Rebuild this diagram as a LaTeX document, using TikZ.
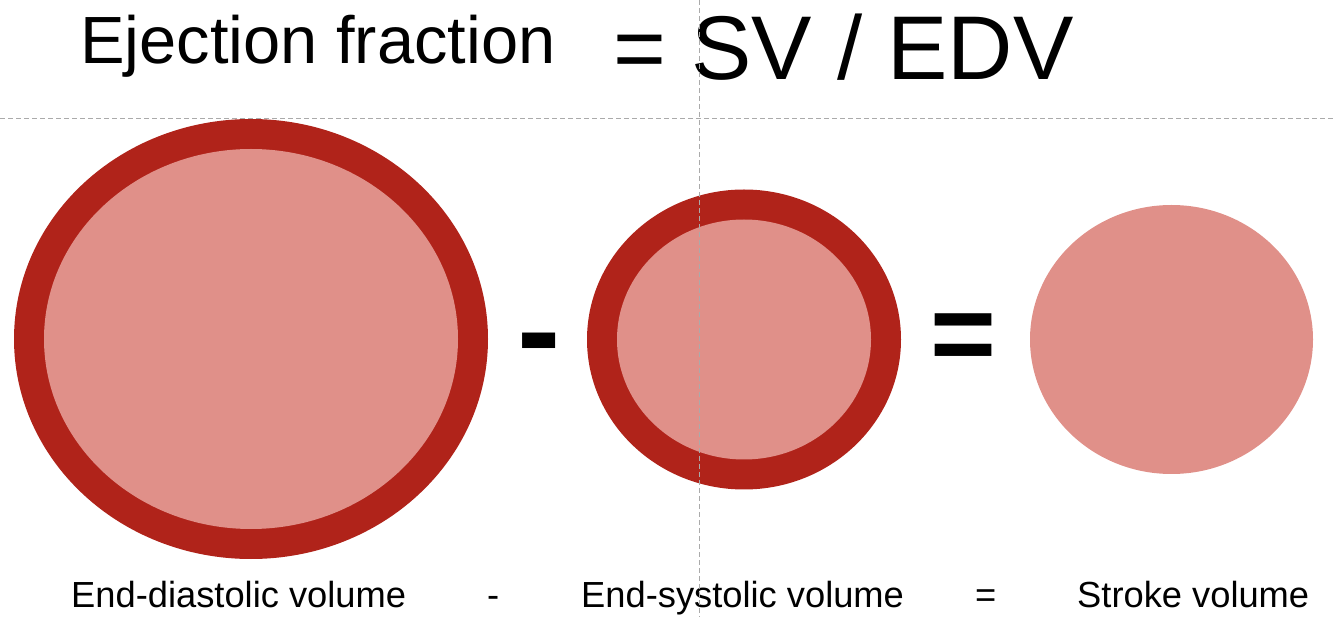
\documentclass[tikz,border=0pt]{standalone}
\usepackage{fontspec}
\setmainfont{Liberation Sans}
\definecolor{wall}{RGB}{176,35,26}
\definecolor{blood}{RGB}{224,144,137}
\definecolor{guide}{RGB}{170,170,170}
\begin{document}
\begin{tikzpicture}[x=1pt,y=-1pt,
  guideline/.style={guide,line width=1pt,dash pattern=on 5pt off 3pt},
  label/.style={anchor=base west,inner sep=0pt,font=\fontsize{36.3}{40}\selectfont},
  bigop/.style={anchor=base west,inner sep=0pt}]
\useasboundingbox (0,0) rectangle (1334,617);
% chambers
\fill[wall] (251,339) ellipse [x radius=237,y radius=220];
\fill[blood] (251,339) ellipse [x radius=207,y radius=190];
\fill[wall] (744,339.5) ellipse [x radius=157,y radius=150];
\fill[blood] (744,339.5) ellipse [x radius=127,y radius=120];
\fill[blood] (1171.5,339.5) ellipse [x radius=141.5,y radius=134.5];
% operators
\node[bigop,font=\bfseries\fontsize{130}{150}\selectfont] (minus) at (517,375) {-};
\node[bigop,font=\bfseries\fontsize{113}{130}\selectfont] (equals) at (930,373) {=};
% title
\node[anchor=base west,inner sep=0pt,font=\fontsize{66.8}{70}\selectfont] (title) at (80,64) {Ejection fraction};
\node[anchor=base west,inner sep=0pt,font=\fontsize{90.5}{100}\selectfont] (formula) at (613,80) {= SV / EDV};
% labels
\node[label] (edv) at (71,607) {End-diastolic volume};
\node[label] (m2) at (487,607) {-};
\node[label] (esv) at (581,607) {End-systolic volume};
\node[label] (e2) at (975,607) {=};
\node[label] (sv) at (1077,607) {Stroke volume};
% guides
\draw[guideline] (0,119) -- (1334,119);
\draw[guideline] (699,0) -- (699,617);
\end{tikzpicture}
\end{document}
